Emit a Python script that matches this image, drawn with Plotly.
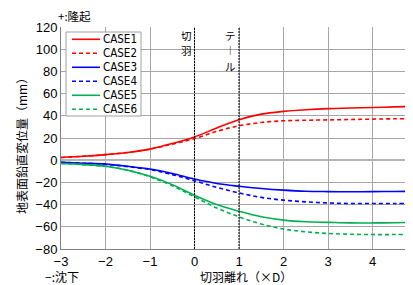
import plotly.graph_objects as go

x_vals = [-3, -2.5, -2, -1.5, -1, -0.5, 0, 0.5, 1, 1.5, 2, 2.5, 3, 3.5, 4, 4.5, 5]
case1 = [2.5, 3.5, 5, 7, 10, 15, 21, 29, 36.5, 41.5, 44, 45.5, 46.5, 47, 47.5, 48, 48.5]
case2 = [2.5, 3.5, 5, 7, 10, 14.5, 19.5, 26, 31, 34, 35.5, 36, 36.3, 36.7, 37, 37.3, 37.5]
case3 = [-2, -2.7, -3.5, -5.5, -8, -12, -17, -21, -23.5, -25.5, -27, -28, -28.3, -28.4, -28.3, -28.2, -28]
case4 = [-2, -2.7, -3.7, -5.8, -8.5, -13, -18.5, -24.5, -29.5, -33.5, -36, -37.5, -38.5, -39, -39, -39, -39]
case5 = [-3, -4, -5.5, -9, -14.5, -22, -31.5, -40, -46, -51, -54, -55.5, -56, -56.5, -56.5, -56.3, -56]
case6 = [-3, -4, -5.5, -9, -15, -23, -33, -43, -51, -57.5, -62, -64.5, -66, -66.7, -67, -67, -67]

names = ["CASE1", "CASE2", "CASE3", "CASE4", "CASE5", "CASE6"]
series = [case1, case2, case3, case4, case5, case6]
colors = ["#FF0000", "#FF0000", "#0000FF", "#0000FF", "#00B050", "#00B050"]
dashes = ["solid", "4px,3px", "solid", "4px,3px", "solid", "4px,3px"]

x_ticks = [-3, -2, -1, 0, 1, 2, 3, 4]
y_ticks = [-80, -60, -40, -20, 0, 20, 40, 60, 80, 100, 120]
marker_x = [0, 1]
marker_labels = ["切羽", "テ︱ル"]

cjk = "Noto Sans CJK JP"
latin = "Liberation Sans, Arial, sans-serif"
narrow = "DejaVu Sans Condensed, Liberation Sans, sans-serif"

# page body has an 8px margin: the figure starts at window (8, 8)
OFF = 8
W, H = 405, 277
L, T, B, R = 53, 19, 36, 0
pw, ph = W - L - R, H - T - B


def px(xw):
    return (xw - OFF - L) / pw


def py(yw):
    return (H - B - (yw - OFF)) / ph


fig = go.Figure()
for n, s, c, d in zip(names, series, colors, dashes):
    fig.add_trace(go.Scatter(x=x_vals, y=s, name=n, mode="lines", showlegend=False,
                             line=dict(color=c, width=1.6, dash=d, shape="spline")))

ann = []
shapes = []

# vertical marker lines and their vertical labels (one character per text)
CH = 10.5
for xv, label in zip(marker_x, marker_labels):
    shapes.append(dict(type="line", xref="x", yref="paper", x0=xv, x1=xv, y0=0, y1=1,
                       line=dict(color="black", width=1, dash="2px,1px")))
    for k, ch in enumerate(label):
        ann.append(dict(x=xv, xref="x", y=py(27 + 15.3 * k), yref="paper", text=ch,
                        showarrow=False, xanchor="right", yanchor="top", xshift=-2,
                        borderpad=0, font=dict(family=cjk, size=CH, color="black")))

# manual legend
shapes.append(dict(type="rect", xref="paper", yref="paper", x0=px(66), x1=px(141),
                   y0=py(116), y1=py(32), fillcolor="white",
                   line=dict(color="#A0A0A0", width=1), layer="above"))
for i, (n, c, d) in enumerate(zip(names, colors, dashes)):
    yy = py(39.3 + 14 * i)
    shapes.append(dict(type="line", xref="paper", yref="paper", x0=px(72), x1=px(100),
                       y0=yy, y1=yy, line=dict(color=c, width=1.6, dash=d), layer="above"))
    ann.append(dict(x=px(102), y=yy, xref="paper", yref="paper", text=n, showarrow=False,
                    xanchor="left", yanchor="middle", borderpad=0,
                    font=dict(family=narrow, size=11.5, color="black")))

ann.append(dict(x=px(57), y=py(16.5), xref="paper", yref="paper", text="+:隆起", showarrow=False,
                xanchor="left", yanchor="middle", borderpad=0,
                font=dict(family=cjk, size=11.5, color="black")))
ann.append(dict(x=px(62), y=py(276), xref="paper", yref="paper", text="−:沈下", showarrow=False,
                xanchor="center", yanchor="middle", borderpad=0,
                font=dict(family=cjk, size=12, color="black")))
ann.append(dict(x=px(246), y=py(276), xref="paper", yref="paper", text="切羽離れ（×D）", showarrow=False,
                xanchor="center", yanchor="middle", borderpad=0,
                font=dict(family=cjk, size=12, color="black")))
ann.append(dict(x=px(21), y=py(143), xref="paper", yref="paper", text="地表面鉛直変位量（mm）",
                showarrow=False, textangle=-90, xanchor="center", yanchor="middle",
                font=dict(family=cjk, size=12, color="black")))

fig.update_layout(
    width=W, height=H,
    margin=dict(l=L, r=R, t=T, b=B),
    paper_bgcolor="white", plot_bgcolor="white",
    showlegend=False,
    xaxis=dict(range=[-3, 4.91], tickvals=x_ticks,
               ticktext=[str(v) if v >= 0 else "−" + str(-v) for v in x_ticks],
               showgrid=True, gridcolor="#A6A6A6", gridwidth=1,
               zeroline=False, showline=True, linecolor="#808080", linewidth=1,
               ticks="", tickfont=dict(family=latin, size=13, color="black")),
    yaxis=dict(range=[-80, 120], tickvals=y_ticks,
               showgrid=True, gridcolor="#A6A6A6", gridwidth=1,
               zeroline=True, zerolinecolor="#B4B4B4", zerolinewidth=2,
               showline=True, linecolor="#808080", linewidth=1,
               ticks="", tickfont=dict(family=latin, size=13, color="black")),
    font=dict(family=cjk, color="black"),
    annotations=ann,
    shapes=shapes,
)

fig.write_html("out.html")
